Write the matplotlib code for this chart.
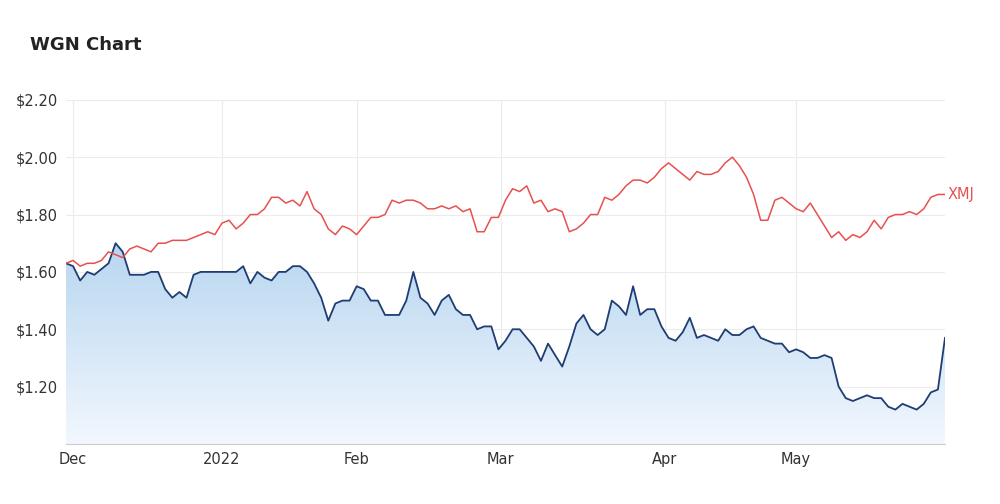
import matplotlib
matplotlib.use("Agg")
import matplotlib.pyplot as plt
import numpy as np
from matplotlib.patches import Polygon
from matplotlib.colors import LinearSegmentedColormap

wgn = [1.63,1.62,1.57,1.60,1.59,1.61,1.63,1.70,1.67,1.59,1.59,1.59,1.60,1.60,1.54,1.51,1.53,1.51,1.59,1.60,
       1.60,1.60,1.60,1.60,1.60,1.62,1.56,1.60,1.58,1.57,1.60,1.60,1.62,1.62,1.60,1.56,1.51,1.43,1.49,1.50,
       1.50,1.55,1.54,1.50,1.50,1.45,1.45,1.45,1.50,1.60,1.51,1.49,1.45,1.50,1.52,1.47,1.45,1.45,1.40,1.41,
       1.41,1.33,1.36,1.40,1.40,1.37,1.34,1.29,1.35,1.31,1.27,1.34,1.42,1.45,1.40,1.38,1.40,1.50,1.48,1.45,
       1.55,1.45,1.47,1.47,1.41,1.37,1.36,1.39,1.44,1.37,1.38,1.37,1.36,1.40,1.38,1.38,1.40,1.41,1.37,1.36,
       1.35,1.35,1.32,1.33,1.32,1.30,1.30,1.31,1.30,1.20,1.16,1.15,1.16,1.17,1.16,1.16,1.13,1.12,1.14,1.13,
       1.12,1.14,1.18,1.19,1.37]
xmj = [1.63,1.64,1.62,1.63,1.63,1.64,1.67,1.66,1.65,1.68,1.69,1.68,1.67,1.70,1.70,1.71,1.71,1.71,1.72,1.73,
       1.74,1.73,1.77,1.78,1.75,1.77,1.80,1.80,1.82,1.86,1.86,1.84,1.85,1.83,1.88,1.82,1.80,1.75,1.73,1.76,
       1.75,1.73,1.76,1.79,1.79,1.80,1.85,1.84,1.85,1.85,1.84,1.82,1.82,1.83,1.82,1.83,1.81,1.82,1.74,1.74,
       1.79,1.79,1.85,1.89,1.88,1.90,1.84,1.85,1.81,1.82,1.81,1.74,1.75,1.77,1.80,1.80,1.86,1.85,1.87,1.90,
       1.92,1.92,1.91,1.93,1.96,1.98,1.96,1.94,1.92,1.95,1.94,1.94,1.95,1.98,2.00,1.97,1.93,1.87,1.78,1.78,
       1.85,1.86,1.84,1.82,1.81,1.84,1.80,1.76,1.72,1.74,1.71,1.73,1.72,1.74,1.78,1.75,1.79,1.80,1.80,1.81,
       1.80,1.82,1.86,1.87,1.87]
tick_labels = ["Dec", "2022", "Feb", "Mar", "Apr", "May"]
tick_idx = [1, 22, 41, 61.3, 84.5, 103]
y_ticks = [1.20, 1.40, 1.60, 1.80, 2.00, 2.20]

n = min(len(wgn), len(xmj))
wgn = wgn[:n]; xmj = xmj[:n]
x = np.arange(n)

fig = plt.figure(figsize=(10, 5.04), dpi=100)
ax = fig.add_axes([0.066, 0.119, 0.879, 0.683])
ymin, ymax = 1.0, 2.20
ax.set_xlim(0, n - 1)
ax.set_ylim(ymin, ymax)

grad = np.linspace(0, 1, 256).reshape(-1, 1)
cmap = LinearSegmentedColormap.from_list("g", [(0.95, 0.97, 0.995), (0.72, 0.84, 0.94)])
im = ax.imshow(grad, extent=[0, n - 1, ymin, max(wgn)], origin="lower", aspect="auto",
               cmap=cmap, zorder=1)
poly = Polygon(np.column_stack([np.r_[x, x[-1], 0], np.r_[wgn, ymin, ymin]]), closed=True,
               facecolor="none", edgecolor="none")
ax.add_patch(poly)
im.set_clip_path(poly)

ax.plot(x, wgn, color="#1f3d73", lw=1.3, zorder=3)
ax.plot(x, xmj, color="#e8504f", lw=1.1, zorder=3)
ax.text(n - 1 + 0.4, xmj[-1], "XMJ", color="#e8504f", fontsize=10.5, va="center", ha="left")

ax.set_yticks(y_ticks)
ax.set_yticklabels([f"${v:.2f}" for v in y_ticks])
ax.set_xticks(tick_idx)
ax.set_xticklabels(tick_labels)
ax.grid(True, color="#ececec", lw=0.8)
ax.set_axisbelow(True)
for s in ax.spines.values():
    s.set_visible(False)
ax.spines["bottom"].set_visible(True)
ax.spines["bottom"].set_color("#cccccc")
ax.tick_params(length=0, labelsize=10.5, colors="#333333", pad=6)
fig.text(0.03, 0.91, "WGN Chart", fontsize=13, fontweight="bold", color="#222222", va="center")
fig.savefig("out.png", dpi=100)
